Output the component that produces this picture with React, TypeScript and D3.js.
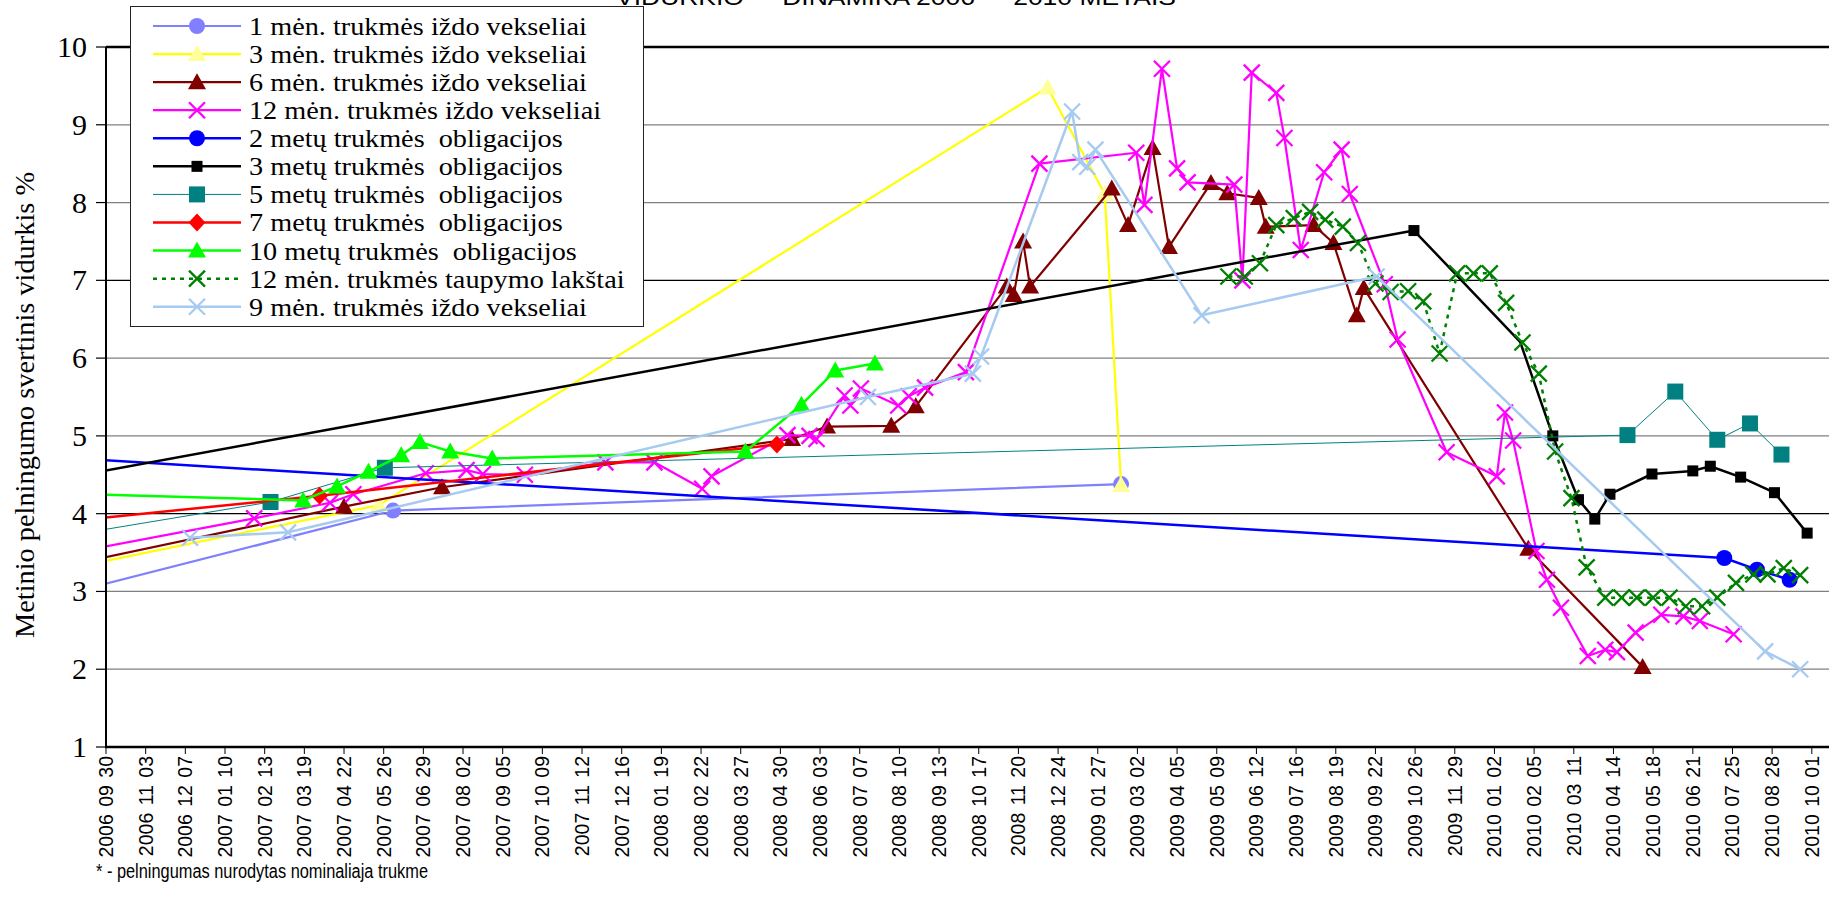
import * as d3 from "d3";

const W = 1829;
const H = 914;

// x axis tick labels (every 34 days)
const xTickLabels = [
  "2006 09 30", "2006 11 03", "2006 12 07", "2007 01 10", "2007 02 13", "2007 03 19",
  "2007 04 22", "2007 05 26", "2007 06 29", "2007 08 02", "2007 09 05", "2007 10 09",
  "2007 11 12", "2007 12 16", "2008 01 19", "2008 02 22", "2008 03 27", "2008 04 30",
  "2008 06 03", "2008 07 07", "2008 08 10", "2008 09 13", "2008 10 17", "2008 11 20",
  "2008 12 24", "2009 01 27", "2009 03 02", "2009 04 05", "2009 05 09", "2009 06 12",
  "2009 07 16", "2009 08 19", "2009 09 22", "2009 10 26", "2009 11 29", "2010 01 02",
  "2010 02 05", "2010 03 11", "2010 04 14", "2010 05 18", "2010 06 21", "2010 07 25",
  "2010 08 28", "2010 10 01",
];
const yTicks = [1, 2, 3, 4, 5, 6, 7, 8, 9, 10];

// 1 mėn. iždo vekseliai
const bill1mDates = ["2006-08-01", "2007-06-03", "2009-02-16"];
const bill1mValues = [2.87, 4.04, 4.38];

// 3 mėn. iždo vekseliai
const bill3mDates = ["2006-08-01", "2007-05-22", "2008-12-15", "2009-02-02", "2009-02-16"];
const bill3mValues = [3.21, 4.11, 9.48, 8.11, 4.37];

// 6 mėn. iždo vekseliai
const bill6mDates = [
  "2006-08-01", "2007-04-22", "2007-07-15", "2008-05-10", "2008-06-09", "2008-08-03",
  "2008-08-24", "2008-11-10", "2008-11-16", "2008-11-24", "2008-11-30", "2009-02-08",
  "2009-02-22", "2009-03-15", "2009-03-29", "2009-05-04", "2009-05-18", "2009-06-14",
  "2009-06-20", "2009-07-31", "2009-08-17", "2009-09-06", "2009-09-12", "2010-01-31",
  "2010-05-09",
];
const bill6mValues = [
  3.25, 4.09, 4.34, 4.96, 5.12, 5.13, 5.38, 6.92, 6.81, 7.5, 6.92, 8.18, 7.71, 8.7, 7.43,
  8.25, 8.12, 8.06, 7.69, 7.71, 7.48, 6.55, 6.9, 3.55, 2.03,
];

// 12 mėn. iždo vekseliai
const bill12mDates = [
  "2006-08-01", "2007-02-04", "2007-04-10", "2007-04-30", "2007-07-01", "2007-08-05",
  "2007-08-19", "2007-09-24", "2007-12-02", "2008-01-13", "2008-02-23", "2008-03-02",
  "2008-05-06", "2008-05-25", "2008-05-31", "2008-06-24", "2008-06-29", "2008-07-08",
  "2008-08-09", "2008-08-18", "2008-09-01", "2008-10-06", "2008-12-08", "2009-03-01",
  "2009-03-08", "2009-03-23", "2009-04-05", "2009-04-14", "2009-05-24", "2009-05-31",
  "2009-06-08", "2009-06-29", "2009-07-06", "2009-07-20", "2009-08-09", "2009-08-24",
  "2009-08-31", "2009-09-30", "2009-10-11", "2009-11-22", "2010-01-04", "2010-01-11",
  "2010-01-18", "2010-02-07", "2010-02-16", "2010-02-28", "2010-03-23", "2010-04-07",
  "2010-04-17", "2010-05-03", "2010-05-25", "2010-06-13", "2010-06-27", "2010-07-26",
];
const bill12mValues = [
  3.41, 3.94, 4.14, 4.25, 4.52, 4.56, 4.51, 4.5, 4.66, 4.66, 4.32, 4.48, 5.01, 5.0, 4.96,
  5.52, 5.39, 5.61, 5.39, 5.51, 5.62, 5.82, 8.5, 8.64, 7.97, 9.72, 8.44, 8.26, 8.23, 7.0,
  9.67, 9.41, 8.83, 7.39, 8.39, 8.68, 8.11, 6.95, 6.24, 4.79, 4.48, 5.3, 4.94, 3.52, 3.15,
  2.79, 2.17, 2.25, 2.22, 2.47, 2.7, 2.68, 2.62, 2.45,
];

// 2 metų obligacijos
const bond2yDates = ["2006-08-01", "2010-07-18", "2010-08-15", "2010-09-12"];
const bond2yValues = [4.74, 3.43, 3.28, 3.15];

// 3 metų obligacijos
const bond3yDates = [
  "2006-08-01", "2009-10-25", "2010-01-24", "2010-02-21", "2010-03-15", "2010-03-29",
  "2010-04-11", "2010-05-17", "2010-06-21", "2010-07-06", "2010-08-01", "2010-08-30",
  "2010-09-27",
];
const bond3yValues = [4.39, 7.64, 6.21, 5.0, 4.18, 3.93, 4.25, 4.51, 4.55, 4.61, 4.47, 4.27, 3.75];

// 5 metų obligacijos
const bond5yDates = [
  "2006-08-01", "2007-02-18", "2007-05-27", "2010-04-26", "2010-06-06", "2010-07-12",
  "2010-08-09", "2010-09-05",
];
const bond5yValues = [3.65, 4.15, 4.59, 5.01, 5.57, 4.95, 5.16, 4.76];

// 7 metų obligacijos
const bond7yDates = ["2006-08-01", "2007-04-01", "2008-04-27"];
const bond7yValues = [3.86, 4.23, 4.89];

// 10 metų obligacijos
const bond10yDates = [
  "2006-08-01", "2007-03-18", "2007-04-16", "2007-05-13", "2007-06-10", "2007-06-26",
  "2007-07-22", "2007-08-27", "2008-03-31", "2008-05-18", "2008-06-16", "2008-07-20",
];
const bond10yValues = [4.27, 4.17, 4.35, 4.54, 4.75, 4.92, 4.8, 4.71, 4.8, 5.4, 5.84, 5.93];

// 12 mėn. taupymo lakštai
const sav12mDates = [
  "2009-05-19", "2009-06-02", "2009-06-15", "2009-06-29", "2009-07-14", "2009-07-28",
  "2009-08-10", "2009-08-25", "2009-09-07", "2009-09-22", "2009-10-05", "2009-10-20",
  "2009-11-02", "2009-11-16", "2009-12-01", "2009-12-15", "2009-12-29", "2010-01-12",
  "2010-01-26", "2010-02-09", "2010-02-23", "2010-03-09", "2010-03-22", "2010-04-07",
  "2010-04-21", "2010-05-04", "2010-05-18", "2010-06-01", "2010-06-15", "2010-06-29",
  "2010-07-12", "2010-07-28", "2010-08-12", "2010-08-24", "2010-09-07", "2010-09-21",
];
const sav12mValues = [
  7.05, 7.05, 7.22, 7.71, 7.8, 7.88, 7.78, 7.69, 7.48, 6.96, 6.85, 6.86, 6.73, 6.06, 7.09,
  7.09, 7.09, 6.71, 6.2, 5.8, 4.8, 4.2, 3.31, 2.92, 2.92, 2.92, 2.92, 2.92, 2.81, 2.81,
  2.92, 3.11, 3.22, 3.22, 3.3, 3.21,
];

// 9 mėn. iždo vekseliai
const bill9mDates = [
  "2006-12-11", "2007-03-05", "2008-07-14", "2008-10-12", "2008-10-19", "2009-01-05",
  "2009-01-12", "2009-01-18", "2009-01-25", "2009-04-26", "2009-09-23", "2010-08-22",
  "2010-09-21",
];
const bill9mValues = [3.69, 3.76, 5.5, 5.8, 6.02, 9.17, 8.52, 8.46, 8.68, 6.55, 7.05, 2.23, 2.0];

type MarkerKind = "circle" | "triangle" | "square" | "smallSquare" | "diamond" | "x";

type Series = {
  name: string;
  dates: string[];
  values: number[];
  color: string;
  fill: string;
  marker: MarkerKind;
  width: number;
  dash?: string;
  noMarker?: number[];
};

const series: Series[] = [
  { name: "1 mėn. trukmės iždo vekseliai", dates: bill1mDates, values: bill1mValues, color: "#8080FF", fill: "#8080FF", marker: "circle", width: 2.2 },
  { name: "3 mėn. trukmės iždo vekseliai", dates: bill3mDates, values: bill3mValues, color: "#FFFF00", fill: "#FFFF99", marker: "triangle", width: 2.2 },
  { name: "6 mėn. trukmės iždo vekseliai", dates: bill6mDates, values: bill6mValues, color: "#800000", fill: "#800000", marker: "triangle", width: 2.2 },
  { name: "12 mėn. trukmės iždo vekseliai", dates: bill12mDates, values: bill12mValues, color: "#FF00FF", fill: "#FF00FF", marker: "x", width: 2.2 },
  { name: "2 metų trukmės  obligacijos", dates: bond2yDates, values: bond2yValues, color: "#0000FF", fill: "#0000FF", marker: "circle", width: 2.5 },
  { name: "3 metų trukmės  obligacijos", dates: bond3yDates, values: bond3yValues, color: "#000000", fill: "#000000", marker: "smallSquare", width: 2.5, noMarker: [2] },
  { name: "5 metų trukmės  obligacijos", dates: bond5yDates, values: bond5yValues, color: "#008080", fill: "#008080", marker: "square", width: 1 },
  { name: "7 metų trukmės  obligacijos", dates: bond7yDates, values: bond7yValues, color: "#FF0000", fill: "#FF0000", marker: "diamond", width: 2.5 },
  { name: "10 metų trukmės  obligacijos", dates: bond10yDates, values: bond10yValues, color: "#00FF00", fill: "#00FF00", marker: "triangle", width: 2.5 },
  { name: "12 mėn. trukmės taupymo lakštai", dates: sav12mDates, values: sav12mValues, color: "#008000", fill: "#008000", marker: "x", width: 2.5, dash: "4 5" },
  { name: "9 mėn. trukmės iždo vekseliai", dates: bill9mDates, values: bill9mValues, color: "#A6CAF0", fill: "#A6CAF0", marker: "x", width: 2.5 },
];

const parseDate = d3.timeParse("%Y-%m-%d");
const parseTick = d3.timeParse("%Y %m %d");

const plot = { left: 106, top: 47, bottom: 747, right: W };

const x = d3
  .scaleTime()
  .domain([parseTick("2006 09 30") as Date, parseTick("2010 10 01") as Date])
  .range([plot.left, plot.left + 43 * 39.67]);

const y = d3.scaleLinear().domain([1, 10]).range([plot.bottom, plot.top]);

const Marker = ({ kind, color, fill, cx, cy }: { kind: MarkerKind; color: string; fill: string; cx: number; cy: number }) => {
  switch (kind) {
    case "circle":
      return <circle cx={cx} cy={cy} r={8} fill={fill} />;
    case "triangle":
      return <path d={`M${cx},${cy - 9}L${cx + 9},${cy + 7}L${cx - 9},${cy + 7}Z`} fill={fill} />;
    case "square":
      return <rect x={cx - 8} y={cy - 8} width={16} height={16} fill={fill} />;
    case "smallSquare":
      return <rect x={cx - 5.5} y={cy - 5.5} width={11} height={11} fill={fill} />;
    case "diamond":
      return <path d={`M${cx},${cy - 9}L${cx + 8.5},${cy}L${cx},${cy + 9}L${cx - 8.5},${cy}Z`} fill={fill} />;
    case "x":
      return (
        <path
          d={`M${cx - 8},${cy - 8}L${cx + 8},${cy + 8}M${cx - 8},${cy + 8}L${cx + 8},${cy - 8}`}
          stroke={color}
          strokeWidth={2.3}
          fill="none"
        />
      );
  }
  return null;
};

const App = () => {
  const line = d3
    .line<[Date, number]>()
    .x((d) => x(d[0]))
    .y((d) => y(d[1]));

  const legendTop = 26;
  const legendStep = 28.07;

  return (
    <svg
      width={W}
      height={H}
      viewBox={`0 0 ${W} ${H}`}
      style={{ position: "absolute", left: 0, top: 0, background: "#fff" }}
    >
      <defs>
        <clipPath id="plotClip">
          <rect x={plot.left} y={0} width={plot.right - plot.left} height={plot.bottom} />
        </clipPath>
      </defs>

      {/* title, cut by the top edge */}
      <text
        x={616}
        y={5}
        fontFamily="Liberation Sans, Arial, sans-serif"
        fontSize={22}
        textLength={560}
        lengthAdjust="spacingAndGlyphs"
        style={{ whiteSpace: "pre" }}
      >
        {"VIDURKIO  -  DINAMIKA 2006  -  2010 METAIS"}
      </text>

      {/* gridlines */}
      {yTicks
        .filter((v) => v > 1 && v < 10)
        .map((v) => (
          <line
            key={v}
            x1={plot.left}
            x2={plot.right}
            y1={y(v)}
            y2={y(v)}
            stroke={v === 4 || v === 7 ? "#000" : "#808080"}
            strokeWidth={1.2}
          />
        ))}
      <line x1={plot.left} x2={plot.right} y1={y(10)} y2={y(10)} stroke="#000" strokeWidth={2.5} />

      {/* series */}
      <g clipPath="url(#plotClip)">
        {series.map((s) => {
          const pts: [Date, number][] = s.dates.map((d, i) => [parseDate(d) as Date, s.values[i]]);
          return (
            <g key={s.name}>
              <path
                d={line(pts) ?? ""}
                fill="none"
                stroke={s.color}
                strokeWidth={s.width}
                strokeDasharray={s.dash}
                strokeLinejoin="round"
              />
              {pts.map((p, i) =>
                s.noMarker?.includes(i) ? null : (
                  <Marker key={i} kind={s.marker} color={s.color} fill={s.fill} cx={x(p[0])} cy={y(p[1])} />
                )
              )}
            </g>
          );
        })}
      </g>

      {/* axes */}
      <line x1={plot.left} x2={plot.left} y1={plot.top} y2={plot.bottom} stroke="#000" strokeWidth={2} />
      <line x1={plot.left - 1} x2={plot.right} y1={plot.bottom} y2={plot.bottom} stroke="#000" strokeWidth={2.5} />
      {yTicks.map((v) => (
        <g key={v}>
          <line x1={plot.left - 10} x2={plot.left} y1={y(v)} y2={y(v)} stroke="#000" strokeWidth={1.2} />
          <text
            x={87}
            y={y(v) + 10}
            textAnchor="end"
            fontFamily="Liberation Serif, Times New Roman, serif"
            fontSize={30}
          >
            {v}
          </text>
        </g>
      ))}
      {xTickLabels.map((lab) => {
        const xp = x(parseTick(lab) as Date);
        return (
          <g key={lab}>
            <line x1={xp} x2={xp} y1={plot.bottom} y2={plot.bottom + 7} stroke="#000" strokeWidth={1} />
            <text
              transform={`translate(${xp + 7},756) rotate(-90)`}
              textAnchor="end"
              fontFamily="Liberation Sans, Arial, sans-serif"
              fontSize={19.5}
              wordSpacing={2}
            >
              {lab}
            </text>
          </g>
        );
      })}

      {/* y title */}
      <text
        transform="translate(34,638) rotate(-90)"
        fontFamily="Liberation Serif, Times New Roman, serif"
        fontSize={28}
        textLength={466}
        lengthAdjust="spacingAndGlyphs"
      >
        Metinio pelningumo svertinis vidurkis %
      </text>

      {/* legend */}
      <rect x={130.5} y={6.5} width={513} height={320} fill="#fff" stroke="#222" strokeWidth={1} />
      {series.map((s, i) => {
        const ry = legendTop + i * legendStep;
        return (
          <g key={s.name}>
            <line x1={153} x2={241} y1={ry} y2={ry} stroke={s.color} strokeWidth={s.width} strokeDasharray={s.dash} />
            <Marker kind={s.marker} color={s.color} fill={s.fill} cx={197} cy={ry} />
            <text
              transform={`translate(249,${ry + 9}) scale(1.13,1)`}
              fontFamily="Liberation Serif, Times New Roman, serif"
              fontSize={25}
              style={{ whiteSpace: "pre" }}
            >
              {s.name}
            </text>
          </g>
        );
      })}

      {/* footnote */}
      <text
        x={96}
        y={878}
        fontFamily="Liberation Sans Narrow, Arial Narrow, Liberation Sans, sans-serif"
        fontSize={20}
        textLength={332}
        lengthAdjust="spacingAndGlyphs"
      >
        * - pelningumas nurodytas nominaliaja trukme
      </text>
    </svg>
  );
};

export default App;
